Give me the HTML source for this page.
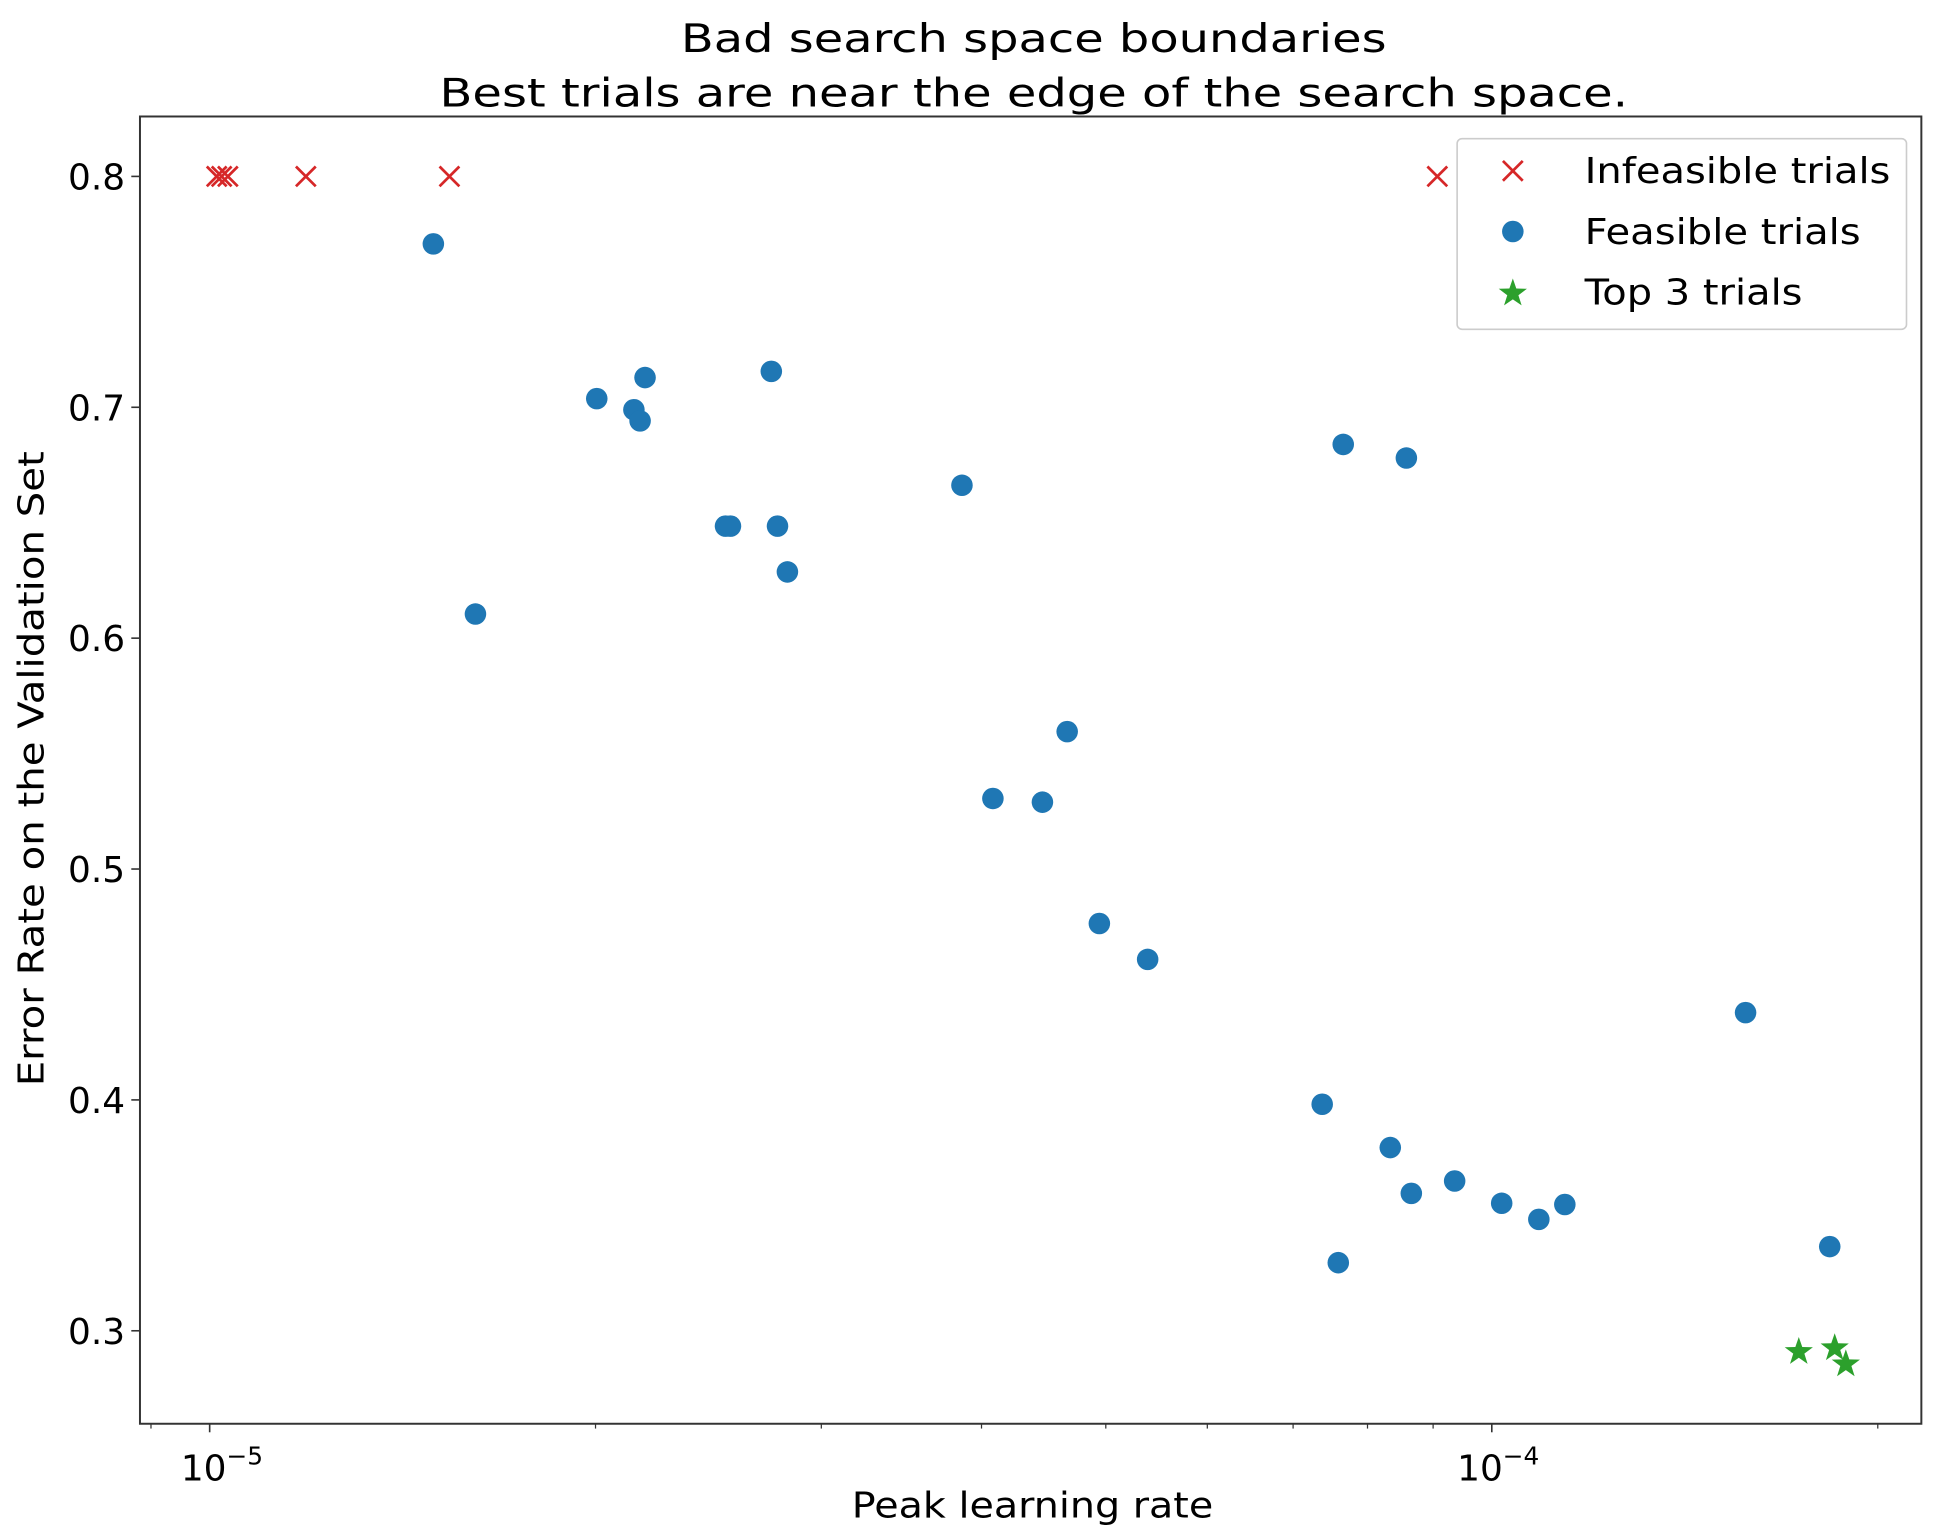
<!DOCTYPE html>
<html><head><meta charset="utf-8"><style>html,body{margin:0;padding:0;background:#fff}svg{display:block}</style></head>
<body>
<svg width="1940" height="1539" viewBox="0 0 1567 1243.2" xmlns="http://www.w3.org/2000/svg" font-family="DejaVu Sans, Liberation Sans, sans-serif">
<defs>
<g id="x"><path d="M-8,-8L8,8M-8,8L8,-8" stroke="#d62728" stroke-width="2.2" fill="none"/></g>
<circle id="c" r="8.7" fill="#1f77b4"/>
<polygon id="s" fill="#2ca02c" points="0,-12 2.8,-3.9 11.4,-3.7 4.5,1.5 7.1,9.7 0,4.8 -7.1,9.7 -4.5,1.5 -11.4,-3.7 -2.8,-3.9"/>
</defs>
<text x="835" y="42" font-size="32" text-anchor="middle" textLength="570" lengthAdjust="spacingAndGlyphs">Bad search space boundaries</text>
<text x="835" y="86" font-size="32" text-anchor="middle" textLength="960" lengthAdjust="spacingAndGlyphs">Best trials are near the edge of the search space.</text>
<g>
<use href="#x" x="175" y="142.5"/><use href="#x" x="179" y="142.5"/><use href="#x" x="184" y="142.5"/>
<use href="#x" x="247" y="142.5"/><use href="#x" x="363" y="142.5"/><use href="#x" x="1161" y="142.5"/>
</g>
<g>
<use href="#c" x="350" y="197"/><use href="#c" x="384" y="496"/><use href="#c" x="482" y="322"/><use href="#c" x="512" y="331"/><use href="#c" x="517" y="340"/><use href="#c" x="521" y="305"/><use href="#c" x="586" y="425"/><use href="#c" x="590" y="425"/><use href="#c" x="623" y="300"/><use href="#c" x="628" y="425"/><use href="#c" x="636" y="462"/><use href="#c" x="777" y="392"/><use href="#c" x="802" y="645"/><use href="#c" x="842" y="648"/><use href="#c" x="862" y="591"/><use href="#c" x="888" y="746"/><use href="#c" x="927" y="775"/><use href="#c" x="1085" y="359"/><use href="#c" x="1136" y="370"/><use href="#c" x="1068" y="892"/><use href="#c" x="1081" y="1020"/><use href="#c" x="1123" y="927"/><use href="#c" x="1140" y="964"/><use href="#c" x="1175" y="954"/><use href="#c" x="1213" y="972"/><use href="#c" x="1243" y="985"/><use href="#c" x="1264" y="973"/><use href="#c" x="1410" y="818"/><use href="#c" x="1478" y="1007"/>
</g>
<g><use href="#s" x="1453" y="1092"/><use href="#s" x="1482" y="1089"/><use href="#s" x="1491" y="1102"/></g>
<rect x="113" y="94.1" width="1439" height="1056" fill="none" stroke="#333" stroke-width="1.6"/>
<g stroke="#333" stroke-width="1.3">
<line x1="113" x2="106" y1="142.5" y2="142.5"/><line x1="113" x2="106" y1="329" y2="329"/><line x1="113" x2="106" y1="515.5" y2="515.5"/><line x1="113" x2="106" y1="702" y2="702"/><line x1="113" x2="106" y1="888.5" y2="888.5"/><line x1="113" x2="106" y1="1075" y2="1075"/>
<line x1="169.3" x2="169.3" y1="1150" y2="1157"/><line x1="1205" x2="1205" y1="1150" y2="1157"/>
</g>
<g stroke="#333" stroke-width="1">
<line x1="121.9" x2="121.9" y1="1150" y2="1154"/><line x1="481" x2="481" y1="1150" y2="1154"/><line x1="663.4" x2="663.4" y1="1150" y2="1154"/><line x1="792.8" x2="792.8" y1="1150" y2="1154"/><line x1="893.2" x2="893.2" y1="1150" y2="1154"/><line x1="975.2" x2="975.2" y1="1150" y2="1154"/><line x1="1044.5" x2="1044.5" y1="1150" y2="1154"/><line x1="1104.6" x2="1104.6" y1="1150" y2="1154"/><line x1="1157.6" x2="1157.6" y1="1150" y2="1154"/><line x1="1516.8" x2="1516.8" y1="1150" y2="1154"/>
</g>
<g font-size="29" text-anchor="end">
<text x="101" y="153">0.8</text><text x="101" y="339.5">0.7</text><text x="101" y="526">0.6</text><text x="101" y="712.5">0.5</text><text x="101" y="899">0.4</text><text x="101" y="1085.5">0.3</text>
</g>
<g font-size="29">
<text x="146" y="1196">10<tspan font-size="20" dy="-13">−5</tspan></text>
<text x="1177" y="1196">10<tspan font-size="20" dy="-13">−4</tspan></text>
</g>
<text x="834" y="1226" font-size="29" text-anchor="middle" textLength="292" lengthAdjust="spacingAndGlyphs">Peak learning rate</text>
<text transform="translate(35,621) rotate(-90)" font-size="29" text-anchor="middle" textLength="513" lengthAdjust="spacingAndGlyphs">Error Rate on the Validation Set</text>
<rect x="1177" y="112" width="363" height="154" rx="4" fill="#fff" fill-opacity="0.8" stroke="#ccc" stroke-width="1.3"/>
<use href="#x" x="1222" y="138"/>
<use href="#c" x="1222" y="187"/>
<use href="#s" x="1222" y="237"/>
<g font-size="29">
<text x="1280" y="148" textLength="247" lengthAdjust="spacingAndGlyphs">Infeasible trials</text>
<text x="1280" y="197" textLength="223" lengthAdjust="spacingAndGlyphs">Feasible trials</text>
<text x="1280" y="246" textLength="176" lengthAdjust="spacingAndGlyphs">Top 3 trials</text>
</g>
</svg>
</body></html>
